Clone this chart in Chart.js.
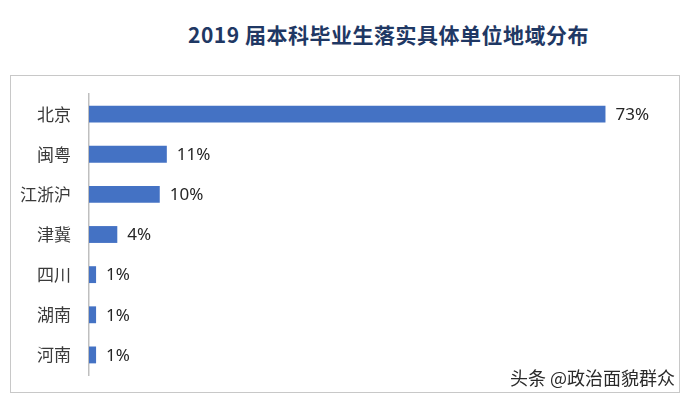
<!DOCTYPE html>
<html>
<head>
<meta charset="utf-8">
<script src="https://cdn.jsdelivr.net/npm/chart.js@4/dist/chart.umd.min.js"></script>
<style>
  body { margin: 0; background: #fff; width: 683px; height: 397px; position: relative; overflow: hidden; }
  #title { position: absolute; left: 0; top: 19px; width: 777px; text-align: center;
           font: bold 21px "Noto Sans CJK SC", "DejaVu Serif", serif; color: #1f3864; letter-spacing: 0.5px; }
  #box { position: absolute; left: 10px; top: 75px; width: 668px; height: 316px; border: 1px solid #c8c8c8; }
  #mark { position: absolute; left: 510px; top: 364px; font: 18px "Noto Sans CJK SC", sans-serif; color: #2a2a2a; }
  #wrap { position: absolute; left: 0; top: 0; width: 683px; height: 397px; }
</style>
</head>
<body>
<div id="title">2019 届本科毕业生落实具体单位地域分布</div>
<div id="box"></div>
<div id="wrap"><canvas id="chart"></canvas></div>
<div id="mark">头条 @政治面貌群众</div>
<script>
const regions = ['北京', '闽粤', '江浙沪', '津冀', '四川', '湖南', '河南'];
const shares = [73, 11, 10, 4, 1, 1, 1];

// 条形末端的百分比标签
const valueLabels = {
  id: 'valueLabels',
  afterDatasetsDraw(chart) {
    const ctx = chart.ctx;
    ctx.save();
    ctx.font = '17px "Noto Sans", "DejaVu Sans", sans-serif';
    ctx.fillStyle = '#262626';
    ctx.textBaseline = 'middle';
    chart.getDatasetMeta(0).data.forEach((bar, i) => {
      ctx.fillText(shares[i] + '%', bar.x + 10, bar.y + 1);
    });
    ctx.restore();
  }
};

new Chart(document.getElementById('chart'), {
  type: 'bar',
  data: {
    labels: regions,
    datasets: [{
      data: shares,
      backgroundColor: '#4472c4',
      categoryPercentage: 1,
      barPercentage: 0.42
    }]
  },
  options: {
    indexAxis: 'y',
    responsive: true,
    maintainAspectRatio: false,
    animation: false,
    layout: { padding: { top: 94, bottom: 22, left: 10, right: 28 } },
    plugins: { legend: { display: false }, tooltip: { enabled: false } },
    scales: {
      x: { display: false, min: 0, max: 80 },
      y: {
        afterFit: (s) => { s.width = 79; },
        grid: { display: false },
        border: { color: '#bfbfbf', width: 1.5 },
        ticks: { color: '#3a3a3a', padding: 10, font: { size: 17, family: '"Noto Sans CJK SC", sans-serif' } }
      }
    }
  },
  plugins: [valueLabels]
});
</script>
</body>
</html>
